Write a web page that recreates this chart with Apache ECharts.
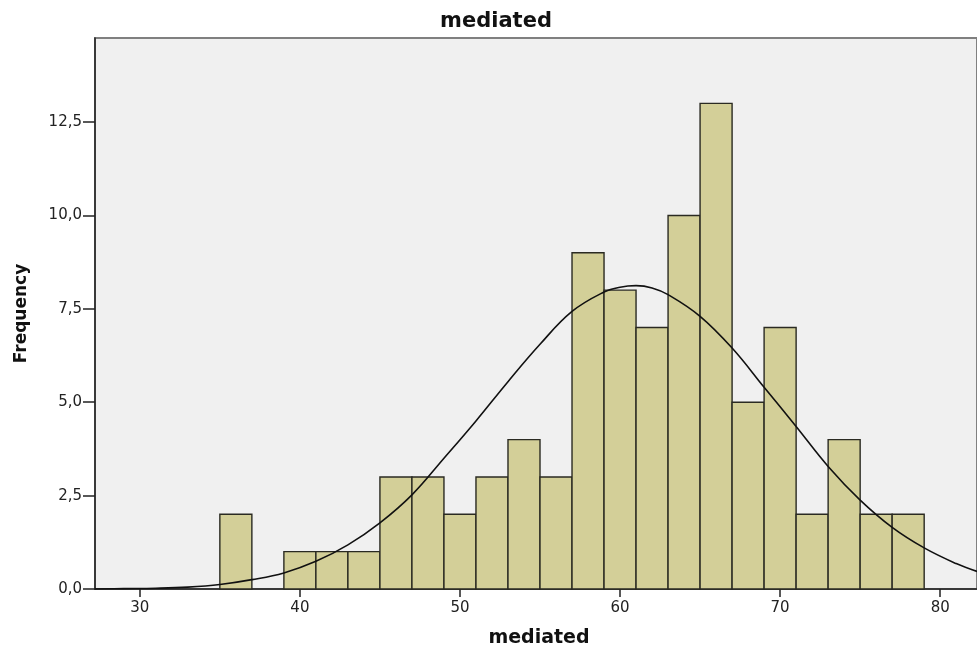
<!DOCTYPE html>
<html>
	<head>
		<meta charset="UTF-8">
		<title>mediated</title>
		<script src="https://cdn.jsdelivr.net/npm/echarts@6/dist/echarts.min.js"></script>
		<style>
			html, body { margin: 0; padding: 0; background: #fff; }
			#chart { width: 977px; height: 653px; }
		</style>
	</head>
	<body>
		<div id="chart"></div>
		<script type="text/javascript">
			// histogram bins (width 2) and counts
			var binStarts = [35, 37, 39, 41, 43, 45, 47, 49, 51, 53, 55, 57, 59, 61, 63, 65, 67, 69, 71, 73, 75, 77];
			var counts    = [2, 0, 1, 1, 1, 3, 3, 2, 3, 4, 3, 9, 8, 7, 10, 13, 5, 7, 2, 4, 2, 2];
			var binWidth = 2;

			// normal curve, points
			var curveX = [27.2, 29, 31, 33, 35, 37, 39, 41, 43, 45, 47, 49, 51, 53, 55, 57, 59, 60, 61, 62, 63, 65, 67, 69, 71, 73, 75, 77, 79, 81, 82.3];
			var curveY = [0.00, 0.01, 0.02, 0.05, 0.12, 0.25, 0.43, 0.74, 1.18, 1.77, 2.52, 3.50, 4.50, 5.55, 6.55, 7.43, 7.95, 8.08, 8.12, 8.06, 7.88, 7.30, 6.45, 5.40, 4.35, 3.28, 2.38, 1.65, 1.10, 0.68, 0.47];

			var xTicks = [30, 40, 50, 60, 70, 80];
			var yTicks = [0, 2.5, 5, 7.5, 10, 12.5];

			var barData = [];
			for (var i = 0; i < binStarts.length; i++) {
				if (counts[i] > 0) barData.push([binStarts[i], binStarts[i] + binWidth, counts[i]]);
			}
			var lineData = [];
			for (var j = 0; j < curveX.length; j++) {
				lineData.push([curveX[j], curveY[j]]);
			}

			var myChart = echarts.init(document.getElementById('chart'));
			var font = 'DejaVu Sans, Verdana, sans-serif';
			var option = {
				backgroundColor: '#ffffff',
				animation: false,
				title: {
					text: 'mediated',
					left: 491,
					textAlign: 'center',
					top: 6,
					textStyle: { fontFamily: font, fontSize: 21, fontWeight: 'bold', color: '#111' }
				},
				grid: {
					left: 95, right: 0, top: 38, bottom: 64,
					outerBoundsMode: 'none',
					containLabel: false,
					show: true,
					backgroundColor: '#f0f0f0',
					borderColor: '#808080',
					borderWidth: 2
				},
				xAxis: {
					type: 'value',
					min: 27.2,
					max: 82.3,
					name: 'mediated',
					nameLocation: 'middle',
					nameGap: 40,
					nameTextStyle: { fontFamily: font, fontSize: 19, fontWeight: 'bold', color: '#111', padding: [0, 0, 0, 6] },
					splitLine: { show: false },
					axisLine: { show: true, lineStyle: { color: '#222', width: 1.5 } },
					axisTick: { show: true, length: 8, customValues: xTicks, lineStyle: { color: '#222', width: 1.5 } },
					axisLabel: {
						customValues: xTicks,
						margin: 12,
						fontFamily: font, fontSize: 15, color: '#222'
					}
				},
				yAxis: {
					type: 'value',
					min: 0,
					max: 14.75,
					name: 'Frequency',
					nameLocation: 'middle',
					nameGap: 65,
					nameTextStyle: { fontFamily: font, fontSize: 17, fontWeight: 'bold', color: '#111' },
					splitLine: { show: false },
					axisLine: { show: true, lineStyle: { color: '#222', width: 1.5 } },
					axisTick: { show: true, length: 12, customValues: yTicks, lineStyle: { color: '#222', width: 1.5 } },
					axisLabel: {
						customValues: yTicks,
						margin: 13,
						fontFamily: font, fontSize: 15, color: '#222',
						formatter: function (v) { return v.toFixed(1).replace('.', ','); }
					}
				},
				series: [
					{
						type: 'custom',
						data: barData,
						renderItem: function (params, api) {
							var p0 = api.coord([api.value(0), api.value(2)]);
							var p1 = api.coord([api.value(1), 0]);
							return {
								type: 'rect',
								shape: { x: p0[0], y: p0[1], width: p1[0] - p0[0], height: p1[1] - p0[1] },
								style: { fill: '#d3cf98', stroke: '#2a2a22', lineWidth: 1.4 }
							};
						},
						encode: { x: [0, 1], y: 2 },
						z: 2
					},
					{
						type: 'line',
						data: lineData,
						smooth: 0.4,
						showSymbol: false,
						lineStyle: { color: '#111', width: 1.6 },
						z: 3
					}
				]
			};
			myChart.setOption(option);
		</script>
	</body>
</html>
